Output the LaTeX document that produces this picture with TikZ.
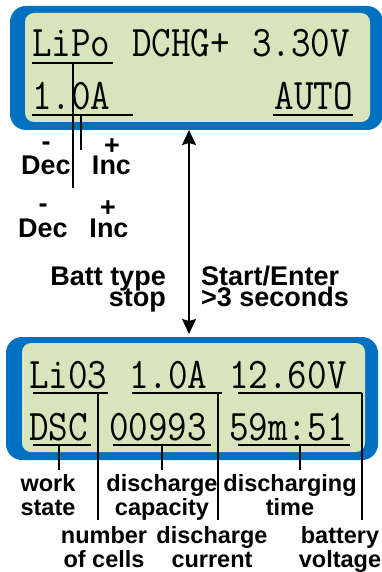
\documentclass[tikz,border=0pt]{standalone}
\usepackage{graphicx}
\usepackage{fontspec}
\setsansfont{Liberation Sans}
\definecolor{lcdBlue}{HTML}{0070C0}
\definecolor{lcdGreen}{HTML}{D8E4BC}
\usetikzlibrary{arrows.meta}
\newcommand{\lcdtall}[1]{\scalebox{1}[1.15]{#1}}

\begin{document}
\begin{tikzpicture}[
    x=1pt, y=-1pt,
    frame/.style={fill=lcdBlue, rounded corners=16pt},
    screen/.style={fill=lcdGreen, rounded corners=9pt},
    lcd/.style={inner sep=0pt, anchor=base west, font=\fontsize{38}{38}\selectfont\ttfamily},
    key/.style={inner sep=0pt, anchor=base, font=\fontsize{27}{21}\selectfont\sffamily\bfseries},
    note/.style={inner sep=0pt, anchor=base, align=center, font=\fontsize{23.5}{24}\selectfont\sffamily\bfseries},
    uline/.style={line width=1.3pt},
    lead/.style={line width=1.1pt},
    arr/.style={{Stealth[length=15pt,width=14pt,inset=2pt]}-{Stealth[length=15pt,width=14pt,inset=2pt]}, line width=1.3pt},
  ]
  \useasboundingbox (0,0) rectangle (381,572);

  % setup screen
  \fill[frame] (10,6) rectangle (383,130);
  \fill[screen] (25,13) rectangle (370,122);
  \node[lcd] (lipo) at (32,57) {\lcdtall{LiPo}};
  \node[lcd] (dchg) at (132,57) {\lcdtall{DCHG+}};
  \node[lcd] (cellv) at (252,57) {\lcdtall{3.30V}};
  \node[lcd] (curr) at (32,110) {\lcdtall{1.0A}};
  \node[lcd, anchor=base east] (auto) at (353,110) {\lcdtall{AUTO}};
  \draw[uline] (32,63) -- (113,63);
  \draw[uline] (32,115) -- (133,115);
  \draw[uline] (273,115) -- (353,115);

  \coordinate (typeTop) at (73,63);
  \coordinate (typeEnd) at (73,188);
  \coordinate (currTop) at (81,115);
  \coordinate (currEnd) at (81,150);
  \draw[lead] (typeTop) -- (typeEnd);
  \draw[lead] (currTop) -- (currEnd);

  \node[key] (minusA) at (46,151) {-};
  \node[key] (plusA) at (112,155) {+};
  \node[key] (decA) at (46,175) {Dec};
  \node[key] (incA) at (111.5,175) {Inc};
  \node[key] (minusB) at (43,212) {-};
  \node[key] (plusB) at (108,216) {+};
  \node[key] (decB) at (43,237) {Dec};
  \node[key] (incB) at (109,237) {Inc};

  \node[key, anchor=base east] (batt) at (166,285) {Batt type};
  \node[key, anchor=base east] (stop) at (166,306) {stop};
  \node[key, anchor=base west] (start) at (201,285) {Start/Enter};
  \node[key, anchor=base west] (hold) at (201,306) {>3 seconds};

  \coordinate (arrTop) at (189,130);
  \coordinate (arrBot) at (189,334);
  \draw[arr] (arrTop) -- (arrBot);

  % discharge screen
  \fill[frame] (6,337) rectangle (378,460);
  \fill[screen] (22,343) rectangle (365,452);
  \node[lcd] (cells) at (29,388) {\lcdtall{Li03}};
  \node[lcd] (dcurr) at (129,388) {\lcdtall{1.0A}};
  \node[lcd] (bvolt) at (229,388) {\lcdtall{12.60V}};
  \node[lcd] (state) at (29,440) {\lcdtall{DSC}};
  \node[lcd] (cap) at (109,440) {\lcdtall{00993}};
  \node[lcd] (time) at (229,440) {\lcdtall{59m:51}};
  \draw[uline] (33,393) -- (108,393);
  \draw[uline] (132,393) -- (222,393);
  \draw[uline] (238,393) -- (362,393);
  \draw[uline] (33,445) -- (91,445);
  \draw[uline] (113,445) -- (211,445);
  \draw[uline] (238,445) -- (350,445);

  \node[note] (workL) at (48,515) {work\\state};
  \node[note] (capL) at (162,515) {discharge\\capacity};
  \node[note] (timeL) at (290,515) {discharging\\time};
  \node[note] (cellsL) at (104,567) {number\\of cells};
  \node[note] (currL) at (212,567) {discharge\\current};
  \node[note] (voltL) at (340,567) {battery\\voltage};

  \draw[lead] (59,445) -- (59,470);
  \draw[lead] (162,445) -- (162,470);
  \draw[lead] (300,445) -- (300,470);
  \draw[lead] (98,393) -- (98,520);
  \draw[lead] (218,393) -- (218,520);
  \draw[lead] (362,393) -- (362,520);
\end{tikzpicture}
\end{document}
